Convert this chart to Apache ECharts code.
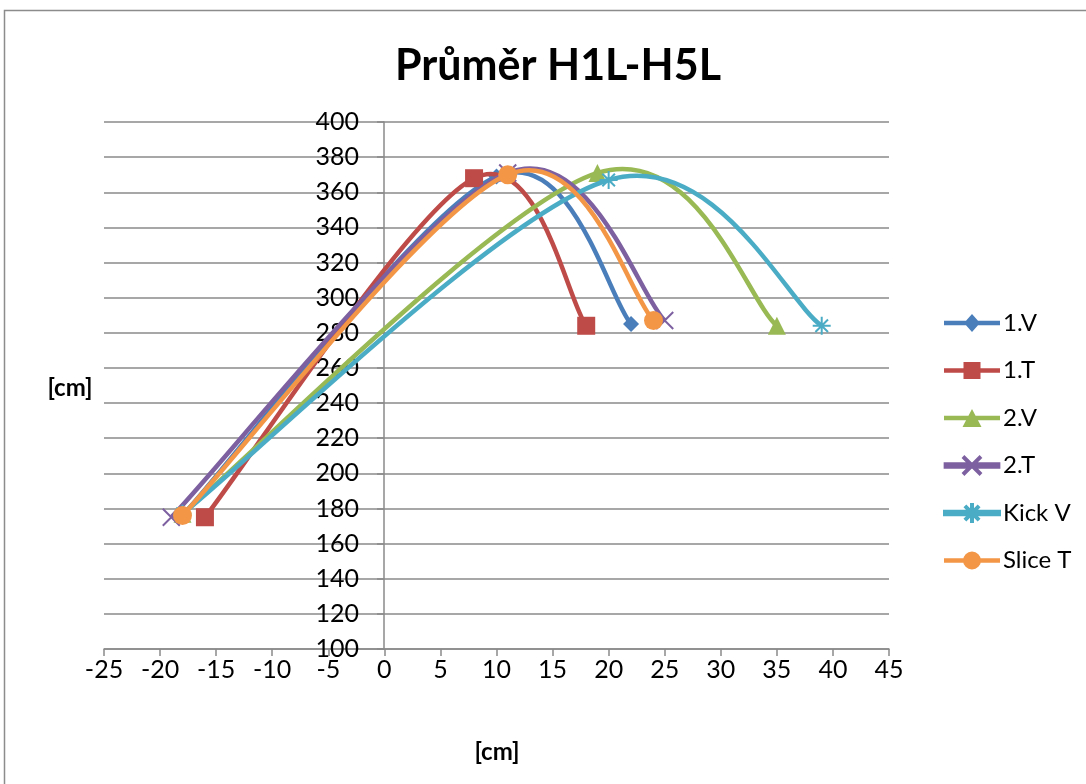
<!DOCTYPE html>
<html>
<head>
<meta charset="utf-8">
<title>Průměr H1L-H5L</title>
<script src="https://cdn.jsdelivr.net/npm/echarts@6/dist/echarts.min.js"></script>
<style>
  html, body { margin: 0; padding: 0; background: #fff; }
  #chart { width: 1086px; height: 784px; }
</style>
</head>
<body>
<div id="chart"></div>
<script>
// Trajectory points [x cm, height cm] for each kick type
const seriesNames = ['1.V', '1.T', '2.V', '2.T', 'Kick V', 'Slice T'];
const v1 = [[-18, 176], [10, 369], [22, 285]];
const t1 = [[-16, 175], [8, 368], [18, 284]];
const v2 = [[-18, 177], [19, 371], [35, 284]];
const t2 = [[-19, 175], [11, 371], [25, 287]];
const kickV = [[-18, 177], [20, 367], [39, 284]];
const sliceT = [[-18, 176], [11, 370], [24, 287]];

const xTicks = { min: -25, max: 45, interval: 5 };
const yTicks = { min: 100, max: 400, interval: 20 };

const colors = ['#4A7EBB', '#BE4B48', '#98B954', '#7D60A0', '#4BACC6', '#F39646'];
const seriesData = [v1, t1, v2, t2, kickV, sliceT];

const symbols = [
  'diamond',
  'rect',
  'triangle',
  'path://M0,0 L10,10 M10,0 L0,10',
  'path://M0,5 L10,5 M5,0 L5,10 M1.5,1.5 L8.5,8.5 M8.5,1.5 L1.5,8.5',
  'circle'
];
const symbolSizes = [16, 18, 18, 17, 18, 19];

// Legend keys: a thick line segment with the series marker in the middle
const legendBar = 'M0,6.75 L56,6.75 L56,11.25 L0,11.25 Z ';
const legendIcons = [
  'path://' + legendBar + 'M28,0 L36,9 L28,18 L20,9 Z',
  'path://' + legendBar + 'M19.5,0.5 L36.5,0.5 L36.5,17.5 L19.5,17.5 Z',
  'path://' + legendBar + 'M28,0 L37.5,18 L18.5,18 Z',
  'path://' + legendBar + 'M20.21,-0.21 L37.21,16.79 L35.79,18.21 L18.79,1.21 Z M37.21,1.21 L20.21,18.21 L18.79,16.79 L35.79,-0.21 Z',
  'path://' + legendBar + 'M27,0 L29,0 L29,18 L27,18 Z M22.31,1.89 L35.11,14.69 L33.69,16.11 L20.89,3.31 Z M35.11,3.31 L22.31,16.11 L20.89,14.69 L33.69,1.89 Z',
  'path://' + legendBar + 'M19,9 A9,9 0 1 1 37,9 A9,9 0 1 1 19,9 Z'
];

const font = 'Lato, "Open Sans", "Liberation Sans", sans-serif';
const axisGray = '#8a8a8a';

// Smoothed curve through pixel points: cubic Bezier segments whose
// control points follow the neighbouring points (1/6 tangent rule).
function smoothPathData(px) {
  const n = px.length;
  let d = 'M' + px[0][0] + ',' + px[0][1];
  for (let k = 0; k < n - 1; k++) {
    const prev = px[k - 1] || px[k];
    const cur = px[k];
    const next = px[k + 1];
    const after = px[k + 2] || px[k + 1];
    const c1x = cur[0] + (next[0] - prev[0]) / 6;
    const c1y = cur[1] + (next[1] - prev[1]) / 6;
    const c2x = next[0] - (after[0] - cur[0]) / 6;
    const c2y = next[1] - (after[1] - cur[1]) / 6;
    d += ' C' + c1x + ',' + c1y + ' ' + c2x + ',' + c2y + ' ' + next[0] + ',' + next[1];
  }
  return d;
}

const chart = echarts.init(document.getElementById('chart'));

const series = [];
seriesNames.forEach((name, i) => {
  // curve
  series.push({
    id: 'curve-' + i,
    type: 'custom',
    coordinateSystem: 'cartesian2d',
    silent: true,
    data: [[0, 200]],
    z: 2 + 2 * i,
    renderItem: function (params, api) {
      const px = seriesData[i].map(p => api.coord(p));
      return {
        type: 'path',
        shape: { pathData: smoothPathData(px) },
        style: { stroke: colors[i], lineWidth: 4.5, fill: 'none', lineJoin: 'round' }
      };
    }
  });
  // markers
  const strokeMarker = i === 3 || i === 4;
  series.push({
    name: name,
    type: 'line',
    data: seriesData[i],
    symbol: symbols[i],
    symbolSize: symbolSizes[i],
    showAllSymbol: true,
    lineStyle: { width: 0, opacity: 0 },
    itemStyle: strokeMarker
      ? { color: colors[i], borderColor: colors[i], borderWidth: 2 }
      : { color: colors[i], borderWidth: 0 },
    emphasis: { disabled: true },
    z: 3 + 2 * i
  });
});

chart.setOption({
  animation: false,
  backgroundColor: '#ffffff',
  textStyle: { fontFamily: font },
  title: {
    text: 'Průměr H1L-H5L',
    left: 553,
    textAlign: 'center',
    top: 40,
    textStyle: { fontFamily: font, fontSize: 43, fontWeight: 'bold', color: '#000' }
  },
  graphic: [
    {
      type: 'rect',
      shape: { x: 4.5, y: 10.5, width: 1100, height: 800 },
      style: { fill: 'none', stroke: '#8c8c8c', lineWidth: 1.5 },
      silent: true
    },
    {
      type: 'text',
      x: 70, y: 388,
      style: { text: '[cm]', fontFamily: font, fontSize: 24, fontWeight: 'bold', fill: '#000', textAlign: 'center', textVerticalAlign: 'middle' }
    },
    {
      type: 'text',
      x: 497, y: 752,
      style: { text: '[cm]', fontFamily: font, fontSize: 24, fontWeight: 'bold', fill: '#000', textAlign: 'center', textVerticalAlign: 'middle' }
    }
  ],
  grid: { left: 104, right: 197, top: 122, bottom: 135, containLabel: false },
  legend: {
    orient: 'vertical',
    left: 938,
    top: 306,
    itemWidth: 56,
    itemHeight: 18,
    itemGap: 23.5,
    data: seriesNames.map((name, i) => ({ name: name, icon: legendIcons[i] })),
    textStyle: { fontFamily: font, fontSize: 24, lineHeight: 24, color: '#000', padding: [0, 0, 0, -2] }
  },
  xAxis: {
    type: 'value',
    min: xTicks.min,
    max: xTicks.max,
    interval: xTicks.interval,
    axisLine: { show: true, onZero: false, lineStyle: { color: axisGray, width: 1.5 } },
    axisTick: { show: true, length: 7, inside: false, lineStyle: { color: axisGray, width: 1.5 } },
    axisLabel: { margin: 8, fontSize: 25, color: '#000', fontFamily: font },
    splitLine: { show: false }
  },
  yAxis: {
    type: 'value',
    min: yTicks.min,
    max: yTicks.max,
    interval: yTicks.interval,
    offset: -280,
    axisLine: { show: true, onZero: false, lineStyle: { color: axisGray, width: 1.5 } },
    axisTick: { show: true, length: 7, inside: false, lineStyle: { color: axisGray, width: 1.5 } },
    axisLabel: { margin: 25, fontSize: 25, color: '#000', fontFamily: font },
    splitLine: { show: true, lineStyle: { color: axisGray, width: 1.5 } },
    z: 1
  },
  series: series
});
</script>
</body>
</html>
